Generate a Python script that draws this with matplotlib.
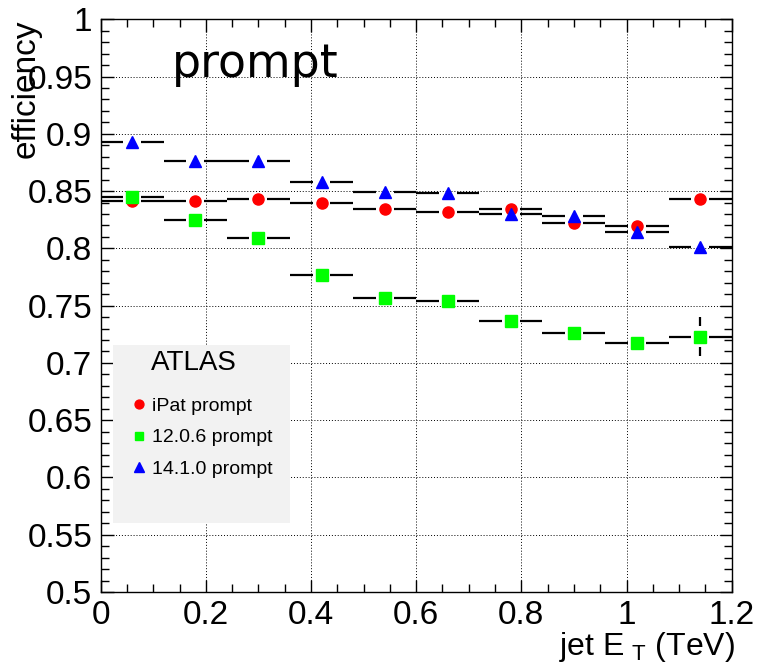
import matplotlib
matplotlib.use('Agg')
import matplotlib.pyplot as plt
from matplotlib.patches import Rectangle
from matplotlib.ticker import MultipleLocator
import numpy as np

plt.rcParams['font.family'] = ['Liberation Sans', 'DejaVu Sans']
plt.rcParams['mathtext.fontset'] = 'custom'
plt.rcParams['mathtext.rm'] = 'Liberation Sans'

# bin centres (TeV), bin half width 0.06
et = [0.06, 0.18, 0.30, 0.42, 0.54, 0.66, 0.78, 0.90, 1.02, 1.14]
ipat = [0.841, 0.841, 0.843, 0.840, 0.834, 0.8315, 0.834, 0.822, 0.8195, 0.843]
rel12 = [0.8446, 0.8248, 0.8091, 0.7765, 0.7569, 0.7541, 0.7366, 0.7264, 0.7171, 0.7229]
rel12_err = [0, 0, 0, 0, 0, 0, 0, 0, 0, 0.017]
rel14 = [0.8926, 0.876, 0.8766, 0.858, 0.8492, 0.8486, 0.830, 0.828, 0.8146, 0.8012]

series = [
	(ipat, None, 'o', '#ff0000', 'iPat prompt', 8),
	(rel12, rel12_err, 's', '#00ff00', '12.0.6 prompt', 8),
	(rel14, None, '^', '#0000ff', '14.1.0 prompt', 8.5),
]

halfw = 0.06
xgap = 0.017   # gap left around the marker (data units)
ygap = 0.009

fig = plt.figure(figsize=(7.58, 6.67), dpi=100)
ax = fig.add_axes([0.1328, 0.1124, 0.8325, 0.8587])

x = np.array(et)
for vals, errs, mk, col, lab, ms in series:
	y = np.array(vals)
	ax.hlines(y, x - halfw, x - xgap, color='black', lw=1.6, zorder=3)
	ax.hlines(y, x + xgap, x + halfw, color='black', lw=1.6, zorder=3)
	if errs is not None:
		e = np.array(errs)
		sel = e > ygap
		ax.vlines(x[sel], y[sel] - e[sel], y[sel] - ygap, color='black', lw=1.6, zorder=3)
		ax.vlines(x[sel], y[sel] + ygap, y[sel] + e[sel], color='black', lw=1.6, zorder=3)
	ax.plot(x, y, ls='none', marker=mk, color=col, ms=ms, mec=col, label=lab, zorder=4)

ax.set_xlim(0, 1.2)
ax.set_ylim(0.5, 1.0)
ax.xaxis.set_minor_locator(MultipleLocator(0.05))
ax.yaxis.set_minor_locator(MultipleLocator(0.01))
ax.set_xticks([0, 0.2, 0.4, 0.6, 0.8, 1.0, 1.2])
ax.set_xticklabels(['0', '0.2', '0.4', '0.6', '0.8', '1', '1.2'])
ax.set_yticks(np.arange(0.5, 1.001, 0.05))
ax.set_yticklabels(['0.5', '0.55', '0.6', '0.65', '0.7', '0.75', '0.8', '0.85', '0.9', '0.95', '1'])
ax.tick_params(which='both', direction='in', top=True, right=True, labelsize=24, width=1)
ax.tick_params(which='major', length=9, pad=6)
ax.tick_params(which='minor', length=6)
ax.grid(True, which='major', color='black', ls=(0, (1, 2)), lw=0.7)
for s in ax.spines.values():
	s.set_linewidth(1)

ax.set_xlabel('jet E$_{\\mathrm{\\ T}}$ (TeV)', fontsize=23, loc='right')
ax.xaxis.set_label_coords(1.005, -0.066)
ax.set_ylabel('efficiency', fontsize=24, loc='top')
ax.yaxis.set_label_coords(-0.094, 1.0)

ax.text(0.113, 0.899, 'prompt', transform=ax.transAxes, fontsize=33,
	family='DejaVu Sans', va='baseline', ha='left')

# grey legend box
ax.add_patch(Rectangle((0.0195, 0.1205), 0.2805, 0.3108, transform=ax.transAxes,
	facecolor='#f2f2f2', edgecolor='none', zorder=2.5))
ax.text(0.148, 0.400, 'ATLAS', transform=ax.transAxes, fontsize=20,
	ha='center', va='center', zorder=5)
leg = ax.legend(loc='upper left', bbox_to_anchor=(0.048, 0.3405), frameon=False,
	fontsize=14, borderpad=0, borderaxespad=0,
	handlelength=0.8, handletextpad=0.3, labelspacing=0.73, markerscale=0.8)
leg.set_zorder(5)

fig.savefig('out.png', dpi=100)
